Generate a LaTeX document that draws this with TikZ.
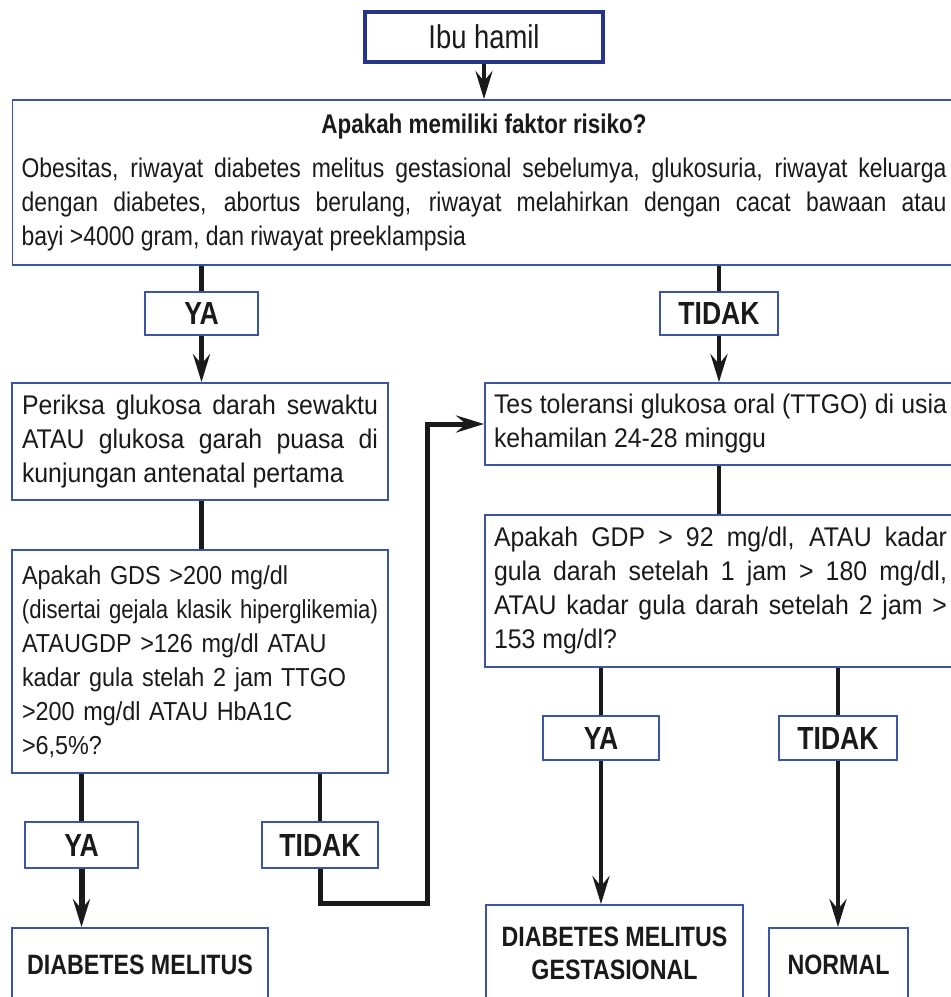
\documentclass[tikz,border=0pt]{standalone}
\usepackage{fontspec}
\setmainfont{Liberation Sans}[FakeStretch=0.92]
\newfontfamily\bcond{Liberation Sans}[FakeStretch=0.83]
\newfontfamily\gdsfont{Liberation Sans}[FakeStretch=0.9]
\newfontfamily\riskfont{Liberation Sans}[FakeStretch=0.85]
\usetikzlibrary{arrows.meta}
\definecolor{boxblue}{HTML}{3A55A4}
\definecolor{navy}{HTML}{26348A}
\definecolor{ink}{HTML}{1A1A1A}
\hyphenpenalty=10000
\exhyphenpenalty=10000
\begin{document}
\begin{tikzpicture}[x=1pt,y=-1pt,
  box/.style={draw=boxblue,line width=1.8pt,fill=white,inner xsep=10pt,inner ysep=0pt,
    font=\fontsize{27}{34}\selectfont,text=ink},
  lbl/.style={draw=boxblue,line width=1.8pt,fill=white,inner sep=0pt,
    font=\bcond\bfseries\fontsize{32}{36}\selectfont,text=ink},
  endbox/.style={draw=boxblue,line width=1.8pt,fill=white,inner sep=0pt,align=center,
    font=\bcond\bfseries\fontsize{28}{33}\selectfont,text=ink},
  conn/.style={draw=ink,line width=4.5pt},
  arr/.style={conn,-{Stealth[length=28pt,width=17pt,inset=10pt]}}]
\useasboundingbox (0,0) rectangle (951,997);
\clip (0,0) rectangle (951,997);
\fill[white] (0,0) rectangle (951,997);

% boxes
\node[draw=navy,line width=3.5pt,fill=white,inner sep=0pt,minimum width=238pt,minimum height=50pt,
  font=\bcond\fontsize{33}{36}\selectfont,text=ink] (ibu) at (484,37) {Ibu hamil};
\node[box,text width=925pt,inner xsep=9pt,minimum height=165pt,align=justify,font=\riskfont\fontsize{27}{34}\selectfont] (risk) at (484,182.5)
  {\makebox[\linewidth]{\bcond\bfseries\fontsize{27}{34}\selectfont Apakah memiliki faktor risiko?}\par\vspace{10pt}%
   Obesitas, riwayat diabetes melitus gestasional sebelumya, glukosuria, riwayat keluarga\linebreak dengan diabetes, abortus berulang, riwayat melahirkan dengan cacat bawaan atau\linebreak bayi >4000 gram, dan riwayat preeklampsia};
\node[lbl,minimum width=113pt,minimum height=43pt] (ya1) at (201.5,313.5) {YA};
\node[lbl,minimum width=118pt,minimum height=43pt] (tidak1) at (719,313.5) {TIDAK};
\node[box,text width=356pt,minimum height=117pt,align=justify] (periksa) at (200,441.5)
  {Periksa glukosa darah sewaktu\linebreak ATAU glukosa garah puasa di\linebreak kunjungan antenatal pertama};
\node[box,text width=453pt,inner xsep=9pt,minimum height=82pt,align=justify] (tes) at (720.5,424)
  {Tes toleransi glukosa oral (TTGO) di usia\linebreak kehamilan 24-28 minggu};
\node[box,text width=356pt,minimum height=223pt,align=left,font=\gdsfont\fontsize{26}{34}\selectfont] (gds) at (200,661.5)
  {Apakah GDS >200 mg/dl\\\resizebox{\linewidth}{\height}{(disertai gejala klasik hiperglikemia)}\\ATAUGDP >126 mg/dl ATAU\\kadar gula stelah 2 jam TTGO\\>200 mg/dl ATAU HbA1C\\>6,5\%?};
\node[box,text width=453pt,inner xsep=9pt,minimum height=152pt,align=justify] (gdp) at (720.5,591)
  {Apakah GDP > 92 mg/dl, ATAU kadar\linebreak gula darah setelah 1 jam > 180 mg/dl,\linebreak ATAU kadar gula darah setelah 2 jam >\linebreak 153 mg/dl?};
\node[lbl,minimum width=113pt,minimum height=46pt] (ya2) at (81.5,845) {YA};
\node[lbl,minimum width=116pt,minimum height=46pt] (tidak2) at (320,845) {TIDAK};
\node[lbl,minimum width=116pt,minimum height=44pt] (ya3) at (601,738) {YA};
\node[lbl,minimum width=118pt,minimum height=44pt] (tidak3) at (838,738) {TIDAK};
\node[endbox,minimum width=256pt,minimum height=74pt] (dm) at (140,965) {DIABETES MELITUS};
\node[endbox,minimum width=257pt,minimum height=97pt] (dmg) at (614.5,953.5) {DIABETES MELITUS\\GESTASIONAL};
\node[endbox,minimum width=139pt,minimum height=74pt] (normal) at (838.5,965) {NORMAL};
\coordinate (loopc) at (427,903);

% connectors
\draw[arr] (ibu.south) -- (risk.north);
\draw[conn] (ya1.north |- risk.south) -- (ya1.north);
\draw[conn] (tidak1.north |- risk.south) -- (tidak1.north);
\draw[arr] (ya1.south) -- (periksa.north -| ya1.south);
\draw[arr] (tidak1.south) -- (tes.north -| tidak1.south);
\draw[conn] (periksa.south -| ya1.south) -- (gds.north -| ya1.south);
\draw[conn] (tes.south -| tidak1.south) -- (gdp.north -| tidak1.south);
\draw[conn] (ya2.north |- gds.south) -- (ya2.north);
\draw[conn] (tidak2.north |- gds.south) -- (tidak2.north);
\draw[arr,line width=6pt] (ya2.south) -- (dm.north -| ya2.south);
\draw[arr,line width=5pt] (tidak2.south) |- (loopc) |- (tes.west);
\draw[conn] (ya3.north |- gdp.south) -- (ya3.north);
\draw[conn] (tidak3.north |- gdp.south) -- (tidak3.north);
\draw[arr] (ya3.south) -- (dmg.north -| ya3.south);
\draw[arr] (tidak3.south) -- (normal.north -| tidak3.south);
\end{tikzpicture}
\end{document}
